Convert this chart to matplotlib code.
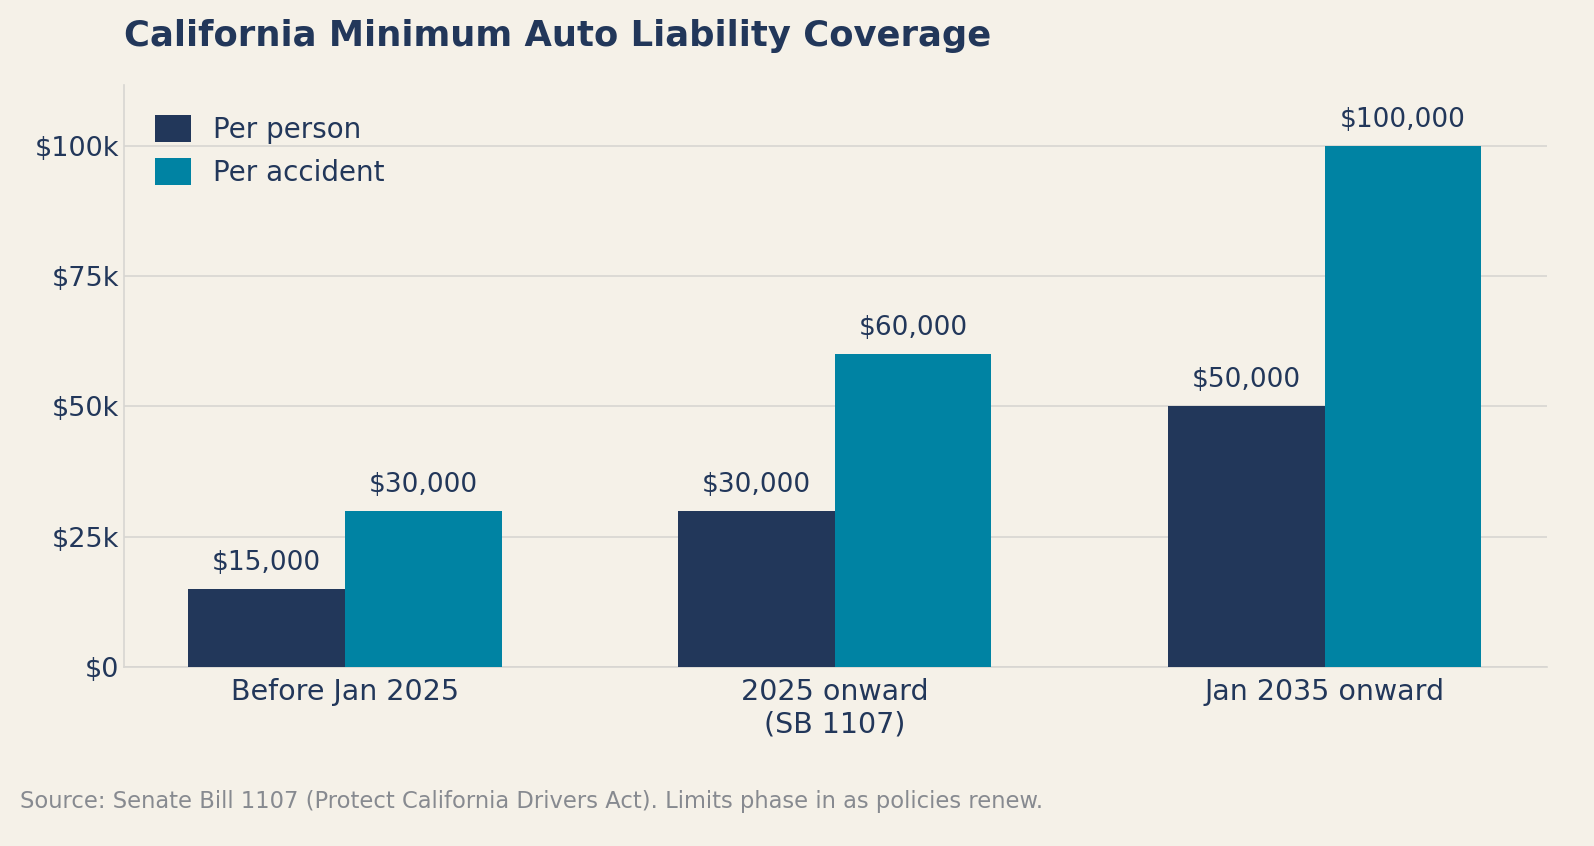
import numpy as np
import matplotlib.pyplot as plt
from matplotlib.ticker import FuncFormatter

categories = ['Before Jan 2025', '2025 onward\n(SB 1107)', 'Jan 2035 onward']
per_person = [15000, 30000, 50000]
per_accident = [30000, 60000, 100000]

bg = '#f5f1e8'
navy = '#22375a'
teal = '#0083a3'

fig = plt.figure(figsize=(15.94, 8.46), dpi=100, facecolor=bg)
ax = fig.add_axes([0.0778, 0.2116, 0.893, 0.688], facecolor=bg)

x = np.arange(len(categories))
w = 0.32
b1 = ax.bar(x - w/2, per_person, w, color=navy, label='Per person', zorder=3)
b2 = ax.bar(x + w/2, per_accident, w, color=teal, label='Per accident', zorder=3)

for bars in (b1, b2):
    for r in bars:
        ax.text(r.get_x() + r.get_width()/2, r.get_height() + 2500, f'${r.get_height():,.0f}',
                ha='center', va='bottom', fontsize=19, color=navy)

ax.set_xlim(-0.451, 2.455)
ax.set_ylim(0, 111700)
ax.set_yticks([0, 25000, 50000, 75000, 100000])
ax.yaxis.set_major_formatter(FuncFormatter(lambda v, p: '$0' if v == 0 else f'${v/1000:.0f}k'))
ax.set_xticks(x)
ax.set_xticklabels(categories)
ax.tick_params(axis='both', length=0, labelsize=19.5, colors=navy)
ax.tick_params(axis='x', pad=8, labelsize=20.5)
ax.yaxis.grid(True, color='#d8d6d2', linewidth=1.2, zorder=0)
for s in ['top', 'right']:
    ax.spines[s].set_visible(False)
for s in ['left', 'bottom']:
    ax.spines[s].set_color('#d8d6d2')
    ax.spines[s].set_linewidth(1.2)

leg = ax.legend(loc='upper left', frameon=False, fontsize=20, labelcolor=navy,
                handlelength=1.3, handleheight=1.1, borderaxespad=0.7)

fig.text(0.0778, 0.958, 'California Minimum Auto Liability Coverage', fontsize=25.5,
         fontweight='bold', color=navy, va='center')
fig.text(0.0125, 0.053, 'Source: Senate Bill 1107 (Protect California Drivers Act). Limits phase in as policies renew.',
         fontsize=16.3, color='#878a90', va='center')

fig.savefig('out.png', dpi=100, facecolor=bg)
